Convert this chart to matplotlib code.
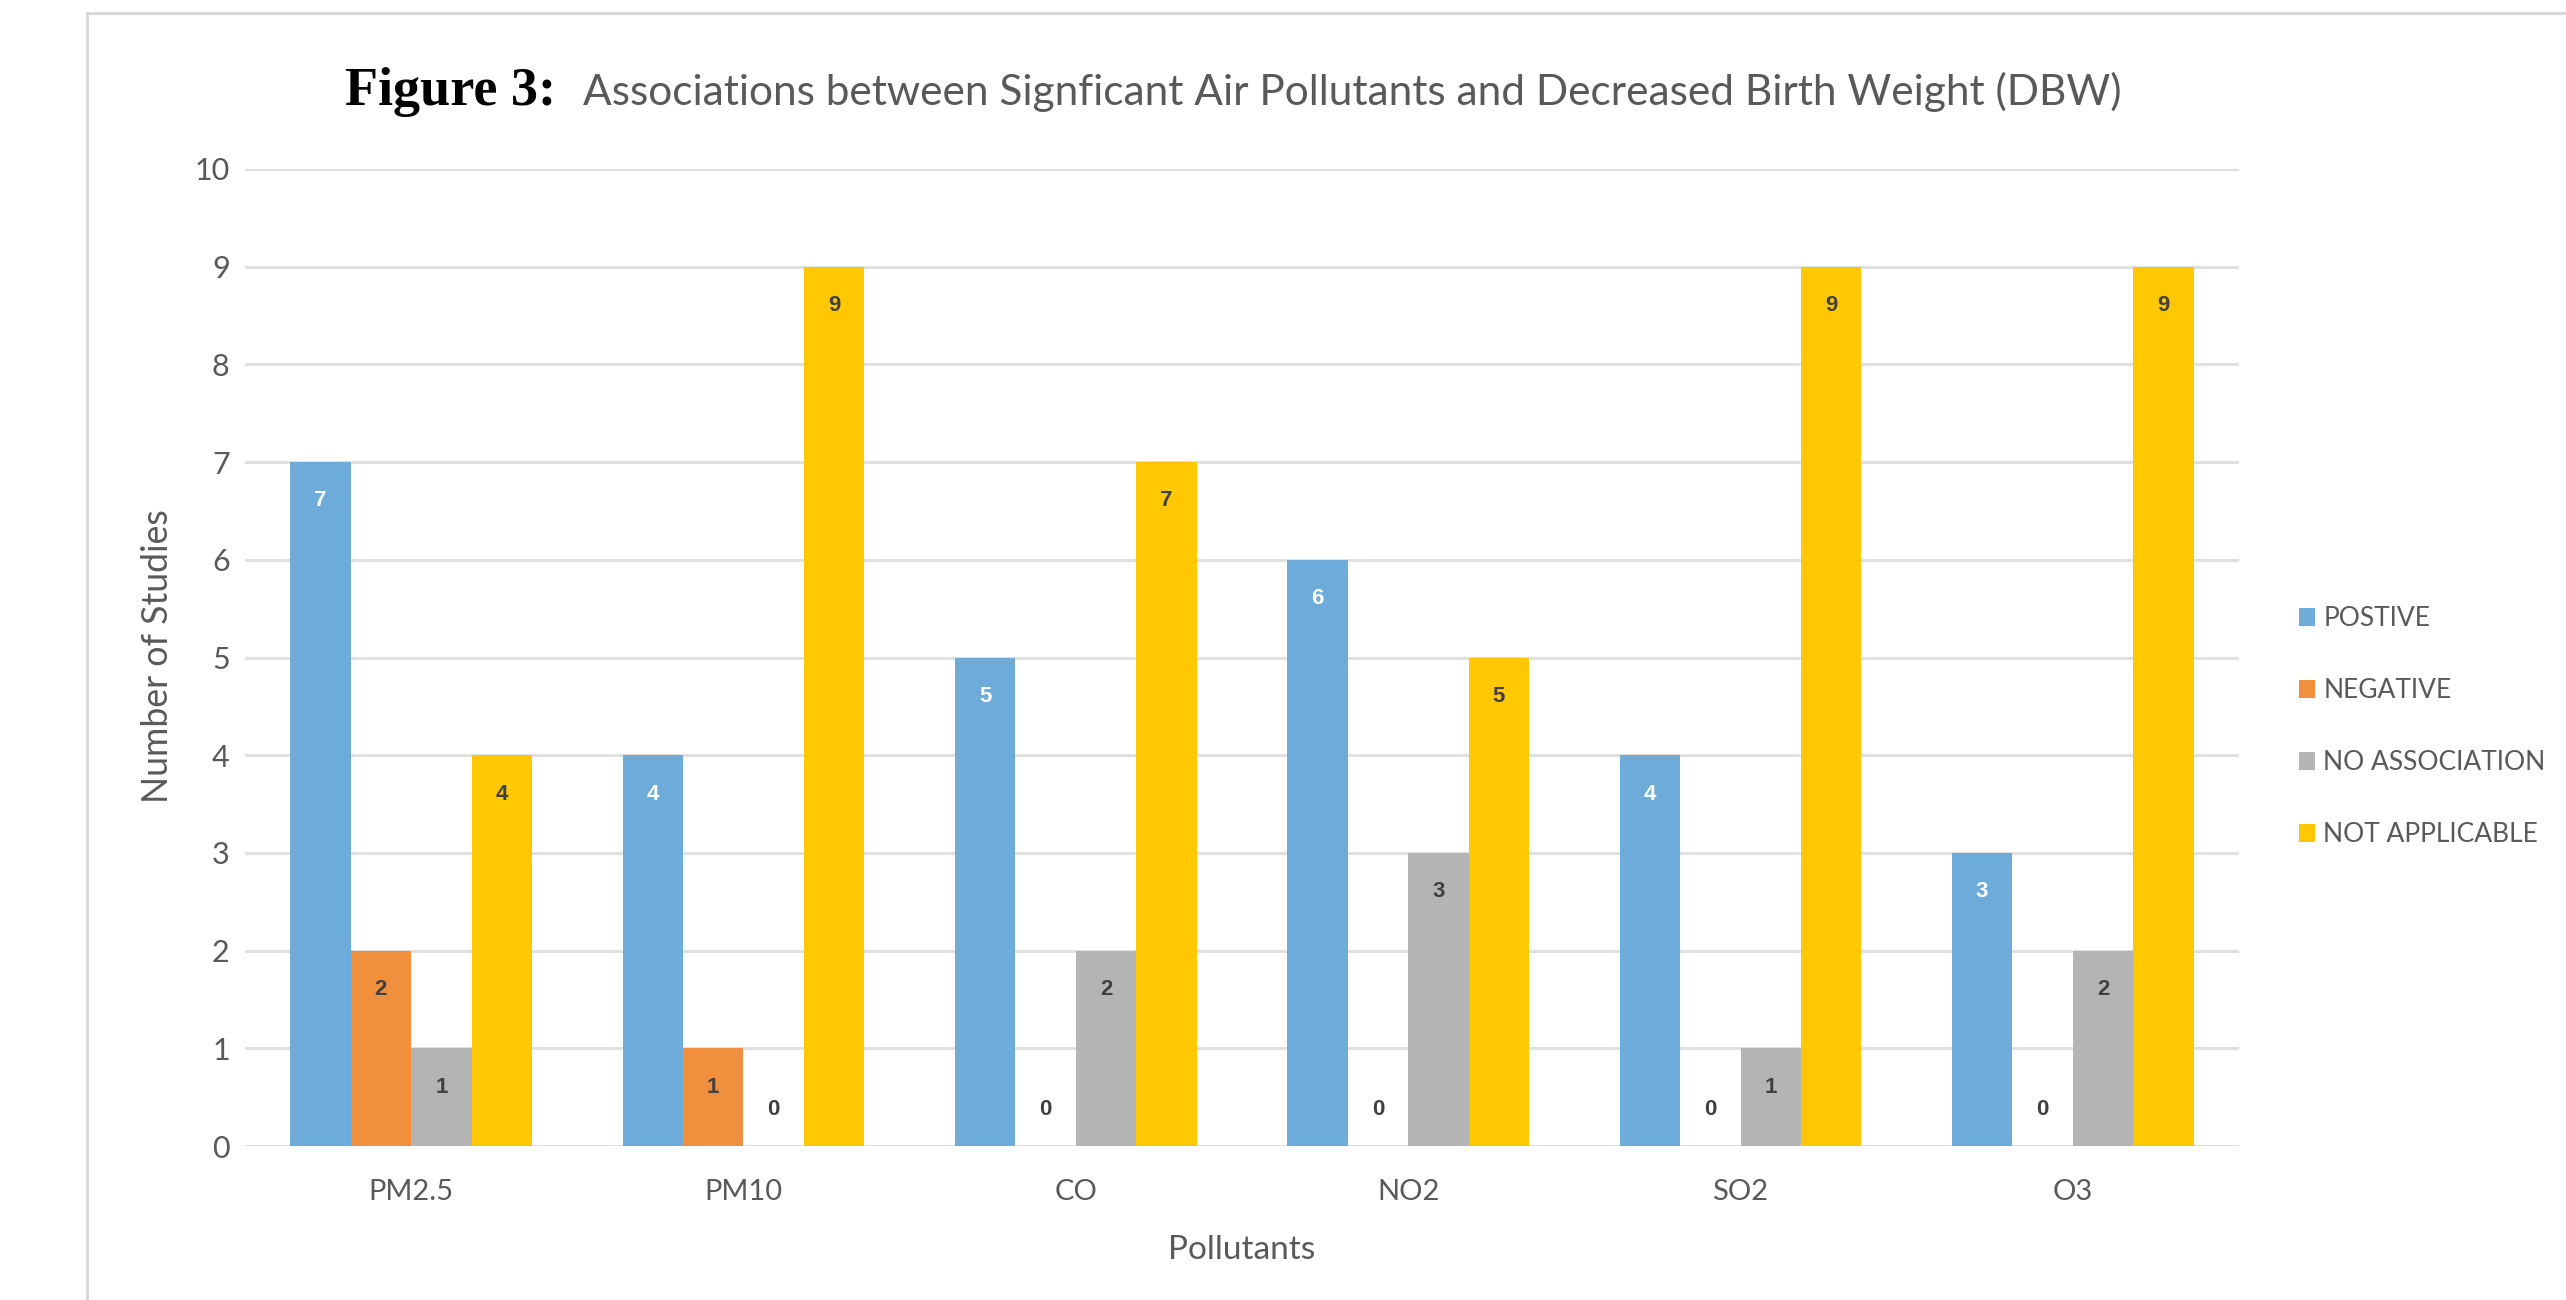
import numpy as np
import matplotlib
matplotlib.use("Agg")
import matplotlib.pyplot as plt
from matplotlib.lines import Line2D
from matplotlib.patches import Patch

# data
pollutants = ["PM2.5", "PM10", "CO", "NO2", "SO2", "O3"]
series_names = ["POSTIVE", "NEGATIVE", "NO ASSOCIATION", "NOT APPLICABLE"]
positive = [7, 4, 5, 6, 4, 3]
negative = [2, 1, 0, 0, 0, 0]
no_assoc = [1, 0, 2, 3, 1, 2]
not_appl = [4, 9, 7, 5, 9, 9]
yticks = list(range(0, 11))

colors = ["#6DACDA", "#F08F3D", "#B4B4B4", "#FFC803"]
label_colors = ["white", "#404040", "#404040", "#404040"]

GREY = "#595959"
plt.rcParams["font.family"] = ["Lato", "DejaVu Sans"]

W, H = 2566, 1300
fig = plt.figure(figsize=(W / 100, H / 100), dpi=100)
ax = fig.add_axes([245 / W, 1 - 1146 / H, (2239 - 245) / W, (1146 - 169) / H])

x = np.arange(len(pollutants))
bw = 0.182
all_series = [positive, negative, no_assoc, not_appl]
for i, vals in enumerate(all_series):
    pos = x + (i - 1.5) * bw
    ax.bar(pos, vals, width=bw, color=colors[i], zorder=3, label=series_names[i])
    for px, v in zip(pos, vals):
        if v > 0:
            ax.annotate(str(v), (px, v), xytext=(0, -28), textcoords="offset points",
                        ha="center", va="center", fontsize=16, fontweight="bold",
                        family="Liberation Sans", color=label_colors[i], zorder=4)
        else:
            ax.annotate(str(v), (px, v), xytext=(0, 26), textcoords="offset points",
                        ha="center", va="center", fontsize=16, fontweight="bold",
                        family="Liberation Sans", color="#404040", zorder=4)

ax.set_xlim(-0.5, len(pollutants) - 0.5)
ax.set_ylim(0, 10)
ax.set_yticks(yticks)
ax.set_xticks(x)
ax.set_xticklabels(pollutants)
ax.yaxis.grid(True, color="#E0E0E0", linewidth=2.2, zorder=0)
ax.set_axisbelow(True)
for s in ax.spines.values():
    s.set_visible(False)
ax.tick_params(axis="both", length=0, colors=GREY)
ax.tick_params(axis="y", labelsize=22, pad=11)
ax.tick_params(axis="x", labelsize=21, pad=24)

fig.text(1242 / W, 1 - 1250 / H, "Pollutants", ha="center", va="center", fontsize=24, color=GREY)
fig.text(157 / W, 1 - 656 / H, "Number of Studies", ha="center", va="center", rotation=90,
         fontsize=25.7, color=GREY)

# title
fig.text(345 / W, 1 - 105 / H, "Figure 3:", ha="left", va="baseline", fontsize=39,
         fontweight="bold", color="black", family="Liberation Serif")
fig.text(583 / W, 1 - 105 / H,
         "Associations between Signficant Air Pollutants and Decreased Birth Weight (DBW)",
         ha="left", va="baseline", fontsize=30.5, color=GREY)

handles = [Patch(facecolor=c) for c in colors]
fig.legend(handles, series_names, loc="upper left", bbox_to_anchor=(2299 / W, 1 - 606 / H),
           frameon=False, fontsize=19, handlelength=0.62, handleheight=0.68,
           handletextpad=0.3, labelspacing=1.78, borderpad=0, borderaxespad=0,
           labelcolor=GREY)

# outer frame
fig.add_artist(Line2D([87 / W, 87 / W], [0, 1 - 13 / H], color="#D9D9D9", linewidth=2.2))
fig.add_artist(Line2D([87 / W, 1], [1 - 13 / H, 1 - 13 / H], color="#D9D9D9", linewidth=2.2))

fig.savefig("out.png", dpi=100)
